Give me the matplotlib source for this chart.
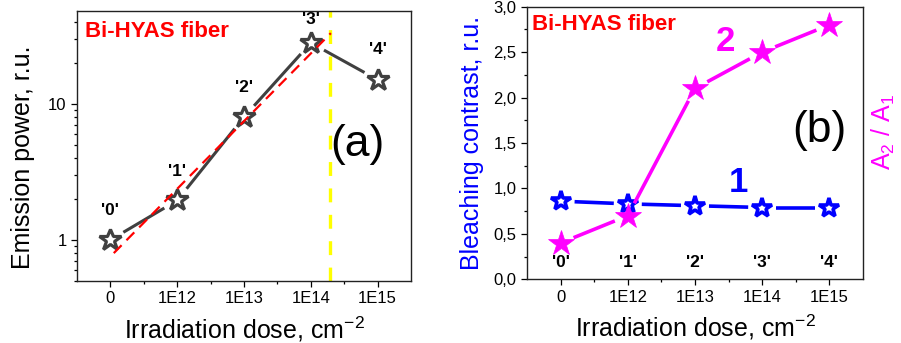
import numpy as np
import matplotlib
matplotlib.use("Agg")
import matplotlib.pyplot as plt
from matplotlib.ticker import FixedLocator, NullFormatter, FuncFormatter, LogLocator, MultipleLocator

plt.rcParams['font.family'] = ['Liberation Sans', 'DejaVu Sans']
plt.rcParams['mathtext.fontset'] = 'custom'
plt.rcParams['mathtext.rm'] = 'Liberation Sans'
plt.rcParams['mathtext.it'] = 'Liberation Sans:italic'
plt.rcParams['mathtext.bf'] = 'Liberation Sans:bold'
plt.rcParams['lines.scale_dashes'] = False

# data
doses = ['0', '1E12', '1E13', '1E14', '1E15']
samples = ["'0'", "'1'", "'2'", "'3'", "'4'"]
emission = [1.0, 1.95, 8.0, 28.0, 15.0]
fit_x = [0.05, 3.3]
fit_y = [0.8, 33.0]
threshold_x = 3.28
contrast = [0.86, 0.83, 0.81, 0.79, 0.79]
ratio = [0.40, 0.70, 2.10, 2.50, 2.80]

xpos = np.arange(len(doses))


def gapped_line(ax, xs, ys, gap, **kw):
    # draw segments that stop short of the markers (gap in pixels)
    pts = ax.transData.transform(np.column_stack([xs, ys]))
    inv = ax.transData.inverted()
    for p0, p1 in zip(pts[:-1], pts[1:]):
        d = p1 - p0
        u = d / np.hypot(*d)
        a = inv.transform(p0 + u * gap)
        b = inv.transform(p1 - u * gap)
        ax.plot([a[0], b[0]], [a[1], b[1]], solid_capstyle='butt', **kw)


def style_axes(ax):
    for s in ax.spines.values():
        s.set_linewidth(1.0)
        s.set_color('#222222')
    ax.tick_params(which='both', direction='out', top=False, right=False,
                   labelsize=12, width=0.9)
    ax.tick_params(which='major', length=4)
    ax.tick_params(which='minor', length=2.5)
    ax.set_xlim(-0.5, 4.5)
    ax.xaxis.set_major_locator(FixedLocator(xpos))
    ax.xaxis.set_minor_locator(FixedLocator(xpos[:-1] + 0.5))
    ax.set_xticklabels(doses)
    ax.set_xlabel(r'Irradiation dose, cm$^{-2}$', fontsize=18, labelpad=6)


fig = plt.figure(figsize=(9.01, 3.43), dpi=100)

# ---- panel (a)
ax1 = fig.add_axes([0.0855, 0.181, 0.3707, 0.787])
style_axes(ax1)
ax1.set_yscale('log')
ax1.set_ylim(0.5, 48)
ax1.yaxis.set_major_locator(FixedLocator([1, 10]))
ax1.yaxis.set_major_formatter(FuncFormatter(lambda v, p: '%g' % v))
ax1.yaxis.set_minor_locator(LogLocator(base=10, subs=np.arange(2, 10)))
ax1.yaxis.set_minor_formatter(NullFormatter())
ax1.set_ylabel('Emission power, r.u.', fontsize=18)
ax1.yaxis.set_label_coords(-0.125, 0.457)

ax1.axvline(threshold_x, color='#FFFF00', lw=2.4, dashes=(10, 9), zorder=1)
gapped_line(ax1, xpos, emission, 15, color='#404040', lw=2.2, zorder=2)
ax1.plot(xpos, emission, ls='none', marker='*', ms=16.5, mfc='white',
         mec='#404040', mew=2.3, zorder=3)
ax1.plot(fit_x, fit_y, color='#FF0000', lw=1.6, dashes=(8, 5), zorder=4)
offsets = [21, 21, 21, 17, 22]
for x, y, s, o in zip(xpos, emission, samples, offsets):
    ax1.annotate(s, (x, y), xytext=(0, o), textcoords='offset points',
                 ha='center', va='center', fontsize=12.5, fontweight='bold')
ax1.text(0.025, 0.925, 'Bi-HYAS fiber', transform=ax1.transAxes, color='#FF0000',
         fontsize=16, fontweight='bold', va='center', ha='left')
ax1.text(3.7, 5.0, '(a)', fontsize=32, ha='center', va='center')

# ---- panel (b)
ax2 = fig.add_axes([0.5849, 0.1857, 0.3729, 0.7948])
style_axes(ax2)
ax2.set_ylim(0, 3)
ax2.yaxis.set_major_locator(MultipleLocator(0.5))
ax2.yaxis.set_minor_locator(MultipleLocator(0.25))
ax2.yaxis.set_major_formatter(FuncFormatter(lambda v, p: ('%.1f' % v).replace('.', ',')))
ax2.set_ylabel('Bleaching contrast, r.u.', fontsize=18, color='#0000FF')
ax2.yaxis.set_label_coords(-0.128, 0.5)

gapped_line(ax2, xpos, contrast, 14, color='#0000FF', lw=2.6, zorder=2)
ax2.plot(xpos, contrast, ls='none', marker='*', ms=15, mfc='white',
         mec='#0000FF', mew=2.6, zorder=3)
gapped_line(ax2, xpos, ratio, 14, color='#FF00FF', lw=2.6, zorder=4)
ax2.plot(xpos, ratio, ls='none', marker='*', ms=19, mfc='#FF00FF',
         mec='#FF00FF', mew=0.5, zorder=5)
for x, s in zip(xpos, samples):
    ax2.text(x, 0.19, s, ha='center', va='center', fontsize=12.5, fontweight='bold')
ax2.text(0.015, 0.935, 'Bi-HYAS fiber', transform=ax2.transAxes, color='#FF0000',
         fontsize=16, fontweight='bold', va='center', ha='left')
ax2.text(2.46, 2.62, '2', color='#FF00FF', fontsize=25, fontweight='bold',
         ha='center', va='center')
ax2.text(2.64, 1.07, '1', color='#0000FF', fontsize=25, fontweight='bold',
         ha='center', va='center')
ax2.text(3.85, 1.64, '(b)', fontsize=32, ha='center', va='center')
ax2.text(1.021, 0.54, r'A$_2$ / A$_1$', transform=ax2.transAxes, rotation=90,
         color='#FF00FF', fontsize=18, ha='left', va='center')

fig.savefig('out.png', dpi=100)
